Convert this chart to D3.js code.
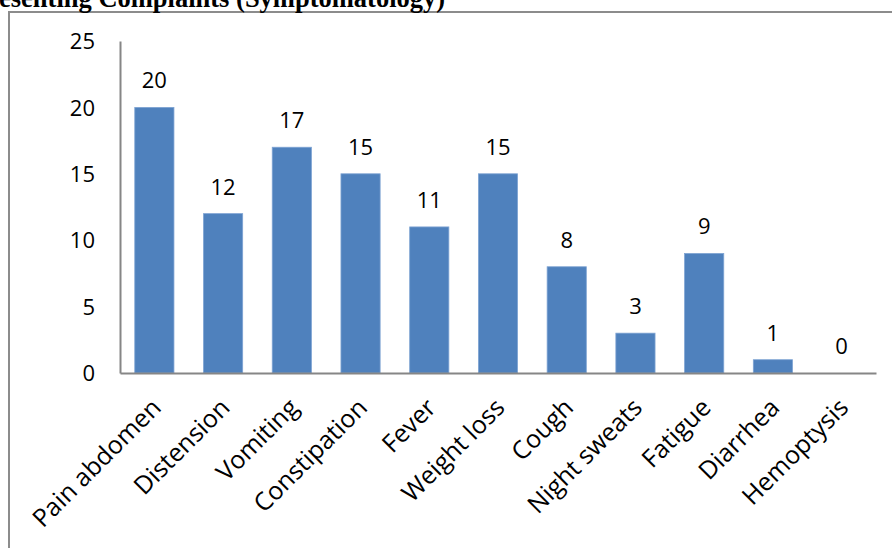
<!DOCTYPE html>
<html>
<head>
<meta charset="utf-8">
<script src="https://cdn.jsdelivr.net/npm/d3@7"></script>
<style>
  body { margin: 0; background: #fff; }
  svg { display: block; }
</style>
</head>
<body>
<div id="chart"></div>
<script>
// chart data
const symptoms = ['Pain abdomen', 'Distension', 'Vomiting', 'Constipation', 'Fever',
    'Weight loss', 'Cough', 'Night sweats', 'Fatigue', 'Diarrhea', 'Hemoptysis'];
const counts = [20, 12, 17, 15, 11, 15, 8, 3, 9, 1, 0];
const yTicks = [0, 5, 10, 15, 20, 25];
const titleText = 'esenting Complaints (Symptomatology)';

const width = 892;
const height = 548;
const plot = {left: 120, right: 876, top: 41, bottom: 373};

const svg = d3.select('#chart').append('svg')
    .attr('width', width)
    .attr('height', height);

// outer frame (cut off at right and bottom)
svg.append('rect')
    .attr('x', 9).attr('y', 12)
    .attr('width', 900).attr('height', 560)
    .attr('fill', 'none')
    .attr('stroke', '#8c8c8c')
    .attr('stroke-width', 2);

// title, partly outside the page
svg.append('text')
    .attr('x', -1).attr('y', 7)
    .attr('font-family', '"Liberation Serif", serif')
    .attr('font-weight', 'bold')
    .attr('font-size', '26.5px')
    .text(titleText);

// Scales
let xScale = d3.scaleBand()
    .domain(symptoms)
    .range([plot.left, plot.right])
    .paddingInner(0.43)
    .paddingOuter(0.215);

let yScale = d3.scaleLinear()
    .domain([0, 25])
    .range([plot.bottom, plot.top]);

const font = '"Open Sans", sans-serif';

// bars
svg.append('g')
    .selectAll('rect')
    .data(counts)
    .enter()
    .append('rect')
    .attr('x', (d, i) => xScale(symptoms[i]))
    .attr('y', d => yScale(d))
    .attr('width', xScale.bandwidth())
    .attr('height', d => yScale(0) - yScale(d))
    .attr('fill', '#4f81bd')
    .attr('stroke', '#7ea3d3')
    .attr('stroke-width', 0.8);

// value labels
svg.append('g')
    .selectAll('text')
    .data(counts)
    .enter()
    .append('text')
    .attr('x', (d, i) => xScale(symptoms[i]) + xScale.bandwidth() / 2)
    .attr('y', d => yScale(d) - 19)
    .attr('text-anchor', 'middle')
    .attr('font-family', font)
    .attr('font-size', '22px')
    .attr('fill', '#000')
    .text(d => d);

// Axes
let yAxis = d3.axisLeft(yScale).tickValues(yTicks).tickSize(0).tickPadding(25);
let xAxis = d3.axisBottom(xScale).tickSize(0).tickPadding(0);

let gy = svg.append('g')
    .attr('transform', `translate(${plot.left}, 0)`)
    .call(yAxis);
gy.select('.domain').attr('stroke', '#868686').attr('stroke-width', 2);
gy.selectAll('text')
    .attr('font-family', font)
    .attr('font-size', '22px')
    .attr('fill', '#000')
    .attr('dy', '0.35em');

let gx = svg.append('g')
    .attr('transform', `translate(0, ${plot.bottom})`)
    .call(xAxis);
gx.select('.domain').attr('stroke', '#868686').attr('stroke-width', 2);
gx.selectAll('text')
    .attr('font-family', font)
    .attr('font-size', '25px')
    .attr('fill', '#000')
    .attr('text-anchor', 'end')
    .attr('dy', '0.35em')
    .attr('transform', 'translate(2, 30) rotate(-45)');
</script>
</body>
</html>
